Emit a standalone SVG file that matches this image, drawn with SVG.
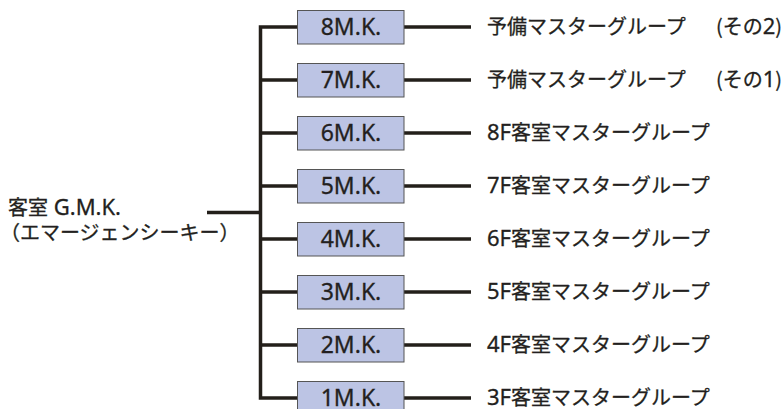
<svg xmlns="http://www.w3.org/2000/svg" width="781" height="409" viewBox="0 0 781 409">
<style>
.ln{fill:none;stroke:#231f1a;stroke-width:3.5;stroke-linejoin:miter;stroke-linecap:butt}
.box{fill:#bcc4e4;stroke:#555555;stroke-width:1}
.t{font-family:"Noto Sans CJK JP","Noto Sans",sans-serif;font-size:20px;fill:#231f20;stroke:#231f20;stroke-width:0.3}
.l{font-family:"Noto Sans","Noto Sans CJK JP",sans-serif;font-size:22px}
.bt{font-family:"Noto Sans","Noto Sans CJK JP",sans-serif;font-size:23px;fill:#231f20;stroke:#231f20;stroke-width:0.3;text-anchor:middle}
</style>
<rect width="781" height="409" fill="#ffffff"/>
<g id="connectors">
<path class="ln" d="M297,27 H260.5 V398 H297"/>
<path class="ln" d="M207,212.5 H260.5"/>
<path class="ln" d="M260.5,80 H297 M260.5,133 H297 M260.5,186 H297 M260.5,239 H297 M260.5,292 H297 M260.5,345 H297"/>
<path class="ln" d="M404,27 H471 M404,80 H471 M404,133 H471 M404,186 H471 M404,239 H471 M404,292 H471 M404,345 H471 M404,398 H471"/>
</g>
<g id="root">
<text class="t" x="8" y="214.5">客室<tspan class="l" font-size="23"> G.M.K.</tspan></text>
<text class="t" x="0" y="239.5" font-size="18.5">（エマージェンシーキー）</text>
</g>
<g id="mk8"><rect class="box" x="297.5" y="10.5" width="106.5" height="33.5"/><text class="bt" x="351" y="35">8M.K.</text></g>
<g id="mk7"><rect class="box" x="297.5" y="63.5" width="106.5" height="33.5"/><text class="bt" x="351" y="88">7M.K.</text></g>
<g id="mk6"><rect class="box" x="297.5" y="116.5" width="106.5" height="33.5"/><text class="bt" x="351" y="141">6M.K.</text></g>
<g id="mk5"><rect class="box" x="297.5" y="169.5" width="106.5" height="33.5"/><text class="bt" x="351" y="194">5M.K.</text></g>
<g id="mk4"><rect class="box" x="297.5" y="222.5" width="106.5" height="33.5"/><text class="bt" x="351" y="247">4M.K.</text></g>
<g id="mk3"><rect class="box" x="297.5" y="275.5" width="106.5" height="33.5"/><text class="bt" x="351" y="300">3M.K.</text></g>
<g id="mk2"><rect class="box" x="297.5" y="328.5" width="106.5" height="33.5"/><text class="bt" x="351" y="353">2M.K.</text></g>
<g id="mk1"><rect class="box" x="297.5" y="381.5" width="106.5" height="33.5"/><text class="bt" x="351" y="406">1M.K.</text></g>
<g id="g8"><text class="t" x="487" y="33.5">予備マスターグループ<tspan x="716">(その<tspan class="l">2</tspan>)</tspan></text></g>
<g id="g7"><text class="t" x="487" y="86.5">予備マスターグループ<tspan x="716">(その<tspan class="l">1</tspan>)</tspan></text></g>
<g id="g6"><text class="t" x="487" y="139.5"><tspan class="l">8F</tspan>客室マスターグループ</text></g>
<g id="g5"><text class="t" x="487" y="192.5"><tspan class="l">7F</tspan>客室マスターグループ</text></g>
<g id="g4"><text class="t" x="487" y="245.5"><tspan class="l">6F</tspan>客室マスターグループ</text></g>
<g id="g3"><text class="t" x="487" y="298.5"><tspan class="l">5F</tspan>客室マスターグループ</text></g>
<g id="g2"><text class="t" x="487" y="351.5"><tspan class="l">4F</tspan>客室マスターグループ</text></g>
<g id="g1"><text class="t" x="487" y="404.5"><tspan class="l">3F</tspan>客室マスターグループ</text></g>
</svg>
